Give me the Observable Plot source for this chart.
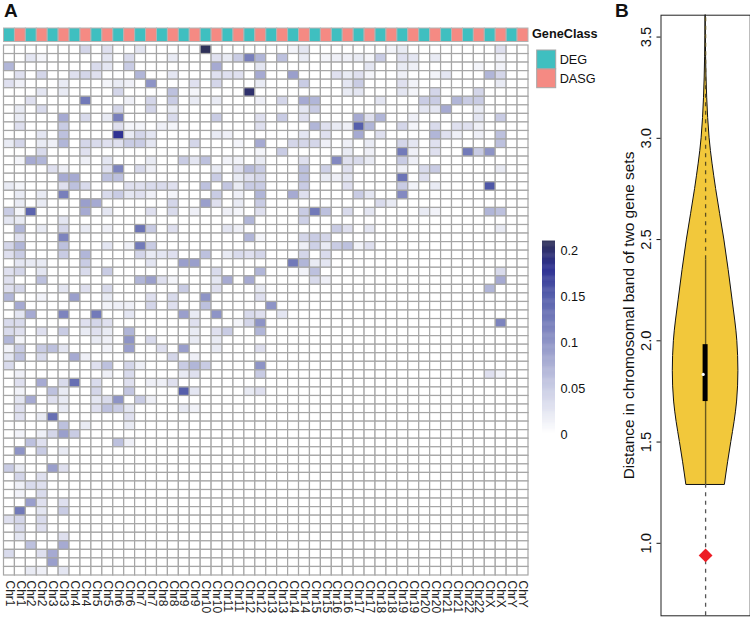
<!DOCTYPE html>
<html><head><meta charset="utf-8">
<script src="https://cdn.jsdelivr.net/npm/d3@7"></script>
<script src="https://cdn.jsdelivr.net/npm/@observablehq/plot@0.6"></script>
<style>
html,body{margin:0;padding:0;background:#fff}
#root{position:relative;width:750px;height:617px;overflow:hidden;font-family:"Liberation Sans",Arial,sans-serif;color:#111}
#root svg{position:absolute;background:transparent;overflow:visible}
.t{position:absolute;white-space:nowrap}
</style></head><body><div id="root"></div>
<script>
// ---- panel A data ----
const chromosomes=["Chr1","Chr2","Chr3","Chr4","Chr5","Chr6","Chr7","Chr8","Chr9","Chr10","Chr11","Chr12","Chr13","Chr14","Chr15","Chr16","Chr17","Chr18","Chr19","Chr20","Chr21","Chr22","ChrX","ChrY"];
const geneClasses=["DEG","DASG"];
// one list per row, as column,value,column,value...
const heatRows=[
[7,.04,9,.03,12,.025,18,.21,26,.01,27,.025,35,.01,36,.02,45,.03],
[2,.025,3,.01,9,.025,11,.035,15,.02,19,.03,20,.02,21,.05,22,.12,23,.07,25,.06,27,.02,29,.01,30,.015,31,.015,32,.02,33,.01,34,.05,36,.03,37,.025,39,.02,45,.012],
[0,.07,8,.035,9,.025,11,.05,19,.08,23,.025,33,.025,36,.02,37,.015,43,.01,45,.012],
[1,.03,3,.04,6,.03,7,.04,8,.03,12,.07,15,.025,19,.03,20,.03,21,.03,23,.08,26,.09,30,.03,31,.02,32,.03,33,.01,36,.015,39,.012,40,.025,44,.07,45,.04],
[0,.03,1,.015,5,.02,9,.01,10,.02,11,.015,13,.1,17,.03,19,.04,23,.02,27,.05,31,.025,32,.05,36,.03,37,.012,45,.02],
[3,.025,5,.02,10,.04,15,.06,17,.01,22,.2,31,.02,32,.025,36,.025,37,.01,39,.04,43,.04],
[2,.03,7,.125,11,.015,13,.04,15,.05,17,.02,19,.02,23,.015,25,.04,27,.08,28,.07,34,.025,38,.05,39,.05,41,.07,42,.05,43,.05],
[1,.02,3,.035,10,.04,13,.04,15,.02,27,.025,28,.05,38,.025,39,.025,40,.08,43,.02],
[1,.02,5,.08,7,.035,9,.02,10,.12,15,.035,19,.05,23,.03,25,.05,27,.03,32,.08,33,.03,34,.07,37,.015,43,.025,45,.05],
[1,.03,5,.05,10,.03,11,.01,12,.01,14,.015,15,.01,23,.03,28,.07,29,.03,30,.02,31,.015,32,.15,33,.07,36,.04,37,.01,39,.035,41,.03,42,.03,43,.015],
[3,.025,5,.06,10,.18,11,.02,12,.04,13,.025,19,.02,20,.015,27,.025,29,.03,32,.08,34,.03,39,.07,40,.03,41,.015,43,.015,45,.06],
[0,.02,1,.04,3,.02,4,.015,5,.07,7,.04,8,.035,9,.03,10,.03,11,.05,12,.05,13,.025,17,.04,21,.01,23,.08,26,.04,27,.04,28,.04,29,.015,31,.015,33,.02,36,.04,37,.025,39,.03,45,.06],
[3,.035,7,.03,23,.01,25,.05,31,.02,33,.015,36,.125,37,.015,39,.03,42,.125,43,.05,44,.1],
[1,.01,2,.08,3,.07,7,.015,9,.025,13,.02,16,.05,17,.025,18,.06,20,.012,21,.012,23,.02,27,.03,30,.11,31,.03,32,.035,33,.02,36,.05,37,.015],
[4,.03,5,.015,9,.03,10,.115,12,.035,13,.015,19,.02,21,.03,22,.065,23,.05,27,.06,29,.045,31,.03,36,.015,38,.035,39,.05,45,.02],
[5,.08,6,.08,9,.06,10,.06,19,.05,21,.02,22,.03,23,.04,27,.06,29,.02,30,.015,31,.025,36,.13,38,.03],
[0,.02,1,.01,5,.03,6,.06,7,.035,11,.03,12,.03,13,.035,14,.035,15,.03,18,.06,20,.055,21,.02,22,.05,23,.05,27,.05,31,.03,36,.05,37,.012,39,.02,44,.155],
[1,.02,3,.02,5,.12,9,.035,10,.05,11,.025,12,.03,13,.015,15,.01,19,.05,21,.015,23,.07,26,.08,27,.03,32,.05,33,.025,36,.11],
[1,.02,3,.02,7,.09,8,.08,15,.04,18,.09,19,.03,21,.02,23,.05,34,.035,35,.02],
[0,.05,1,.01,2,.145,7,.08,9,.025,13,.03,15,.035,17,.015,20,.015,21,.01,23,.03,27,.05,28,.125,29,.06,31,.035,33,.025,38,.02,39,.012,44,.07,45,.06],
[0,.025,1,.02,5,.025,22,.07,27,.045],
[1,.07,3,.02,5,.04,7,.02,9,.015,12,.13,13,.05,15,.03,20,.025,21,.015,30,.05,31,.03,33,.025,45,.02],
[1,.03,5,.115,22,.07,23,.01,27,.04,28,.05,29,.04],
[0,.04,1,.07,5,.06,9,.025,11,.015,12,.125,13,.05,27,.015,28,.045,29,.02,30,.05,31,.06,32,.012,33,.03],
[0,.03,1,.05,5,.05,7,.07,12,.04,13,.02,14,.025,15,.03,18,.06,20,.02,21,.035,22,.03,23,.04,27,.04,29,.035],
[1,.025,2,.02,3,.02,7,.05,13,.025,16,.09,17,.09,26,.125,27,.07,28,.02,29,.025],
[0,.03,1,.04,3,.025,7,.035,9,.05,19,.035,23,.07,27,.012,28,.06,45,.035],
[0,.03,3,.06,12,.07,13,.09,14,.03,15,.01,19,.025,20,.08,22,.08,28,.035,29,.015,45,.08],
[0,.03,1,.04,5,.025,7,.03,9,.035,16,.05,19,.03,23,.02,44,.07],
[0,.07,3,.012,6,.09,9,.02,13,.03,15,.035,18,.1,23,.03],
[1,.08,9,.012,10,.015,11,.015,13,.04,15,.03,18,.06,24,.1],
[1,.025,2,.08,5,.115,8,.125,11,.025,16,.09,17,.02,19,.1,22,.035,23,.03,25,.025],
[0,.035,1,.035,7,.03,8,.04,9,.03,17,.03,21,.01,22,.04,23,.1,45,.115],
[0,.035,1,.03,3,.03,5,.05,7,.02,8,.03,9,.02,11,.07,17,.02,19,.03,20,.05,23,.07],
[0,.07,1,.01,8,.02,9,.015,11,.1,13,.035,17,.02,19,.02],
[0,.012,1,.05,3,.05,4,.06,5,.025,9,.012,11,.09,14,.03,16,.09,19,.02,23,.03],
[0,.025,1,.06,3,.035,6,.08,7,.015,15,.04,17,.015],
[0,.035,8,.03,9,.06,11,.04,12,.015,16,.05,17,.07,18,.05,23,.1],
[1,.015,9,.015,11,.035,16,.02,17,.03,23,.05,44,.03,45,.012],
[1,.03,3,.08,5,.035,6,.135,8,.035,11,.03,13,.015,14,.015,15,.03],
[1,.012,4,.06,5,.02,8,.04,11,.055,16,.15,17,.025,22,.02,23,.03],
[1,.025,2,.08,4,.03,5,.02,8,.025,9,.035,10,.1,12,.05,13,.015],
[1,.03,5,.02,8,.03,9,.06,10,.05,11,.025,16,.02,17,.012],
[1,.03,3,.02,4,.135,11,.03],
[5,.06,7,.02,11,.02],
[1,.012,3,.015,4,.04,5,.09,6,.05],
[2,.06,3,.03,10,.06,11,.015],
[1,.1,3,.05,5,.02],
[],
[0,.05,1,.02,4,.09,5,.03],
[1,.04,3,.03],
[1,.015,2,.035,3,.03],
[1,.012,3,.035],
[2,.09,3,.03,5,.03],
[1,.125,3,.025,5,.05],
[0,.03,1,.04,3,.035],
[1,.035,3,.03],
[1,.025,5,.03],
[2,.06,5,.08],
[0,.035,3,.03,4,.08],
[4,.09],
[2,.02,3,.015,5,.025]
];
const colorStops=[0,.05,.1,.15,.18,.21];
const colorRamp=["#ffffff","#c9cce4","#8e94c6","#565fab","#2e3192","#2f3159"];
const colorTicks=[0,.05,.1,.15,.2];
const classColors=["#3fbfc0","#f58a83"];
// ---- panel B data ----
const violinV=[1.29,1.4,1.5,1.6,1.7,1.85,2.0,2.2,2.5,2.75,3.0,3.2,3.4,3.608];
const violinW=[19.3,22.5,25.7,29,31.5,32.8,31.7,27,18.7,10.5,4,1.6,.5,.1];
const distTicks=[1,1.5,2,2.5,3,3.5];
const whiskerLow=1.29, whiskerHigh=2.4, q1=1.70, q3=1.981, median=1.834, redPoint=.94, yMin=.642, yMax=3.608;

const root=document.getElementById("root");
function place(svg,left,top){svg.style.left=left+"px";svg.style.top=top+"px";root.appendChild(svg);}
function label(text,left,top,css){const d=document.createElement("div");d.className="t";d.textContent=text;d.style.cssText+=`left:${left}px;top:${top}px;${css}`;root.appendChild(d);}
const font='"Liberation Sans",Arial,sans-serif';

const nCols=chromosomes.length*2;
const columns=d3.range(nCols);
const rowsIdx=d3.range(heatRows.length);
const colName=i=>chromosomes[Math.floor(i/2)];
const cells=[];
for(const r of rowsIdx)for(const c of columns)cells.push({r,c,v:0});
heatRows.forEach((row,r)=>{for(let i=0;i<row.length;i+=2)cells[r*nCols+row[i]].v=row[i+1];});

const colorScale={type:"linear",domain:colorStops,range:colorRamp,interpolate:"rgb"};

// heat map
place(Plot.plot({width:600,height:617,marginLeft:3.5,marginRight:72,marginTop:45,marginBottom:42,
  style:{fontFamily:font,background:"transparent"},
  x:{type:"band",domain:columns,padding:0,round:false,label:null},
  y:{type:"band",domain:rowsIdx,padding:0,round:false,label:null,axis:null},
  color:colorScale,
  marks:[
    Plot.cell(cells,{x:"c",y:"r",fill:"v",stroke:"#a6a6a6",strokeWidth:1.2}),
    Plot.axisX({anchor:"bottom",tickSize:0,tickPadding:5,tickRotate:90,fontSize:12,label:null,tickFormat:colName,fill:"#222"})
  ]}),0,0);

// annotation bar
place(Plot.plot({width:600,height:42,marginLeft:3.5,marginRight:72,marginTop:28,marginBottom:.5,
  style:{background:"transparent"},
  x:{type:"band",domain:columns,padding:0,round:false,axis:null},
  y:{axis:null,type:"band",domain:["GeneClass"],padding:0,round:false},
  color:{domain:geneClasses,range:classColors},
  marks:[Plot.cell(columns,{x:d=>d,y:()=>"GeneClass",fill:d=>geneClasses[d%2],stroke:"#b3b3b3",strokeWidth:1})]}),0,0);

// class legend
place(Plot.plot({width:90,height:88,marginLeft:6.7,marginRight:64.3,marginTop:50,marginBottom:.3,
  style:{fontFamily:font,background:"transparent"},
  x:{type:"band",domain:["k"],padding:0,round:false,axis:null},
  y:{type:"band",domain:geneClasses,padding:0,round:false,label:null,axis:null},
  color:{domain:geneClasses,range:classColors},
  marks:[Plot.cell(geneClasses,{x:()=>"k",y:d=>d,fill:d=>d,stroke:"#a6a6a6",strokeWidth:1}),
    Plot.axisY({anchor:"right",tickSize:0,tickPadding:3.5,fontSize:12.7,label:null,fill:"#111"})]}),530,0);

// colour bar
const barStep=.001;
place(Plot.plot({width:70,height:440,marginLeft:12,marginRight:45,marginTop:241,marginBottom:6,
  style:{fontFamily:font,background:"transparent"},
  x:{domain:[0,1],axis:null},
  y:{domain:[0,.21],label:null,axis:null},
  color:colorScale,
  marks:[Plot.rect(d3.range(0,.21,barStep),{x1:()=>0,x2:()=>1,y1:d=>d,y2:d=>d+barStep*1.5,fill:d=>d}),
    Plot.axisY({anchor:"right",ticks:colorTicks,tickSize:0,tickPadding:5,fontSize:12.7,label:null,tickFormat:d=>String(d),fill:"#111"})]}),530,0);

// violin
const violin=violinV.map((v,i)=>({v,w:violinW[i]}));
place(Plot.plot({width:140,height:617,marginLeft:50.5,marginRight:0.3,marginTop:14.7,marginBottom:1.7,
  style:{fontFamily:font,background:"transparent"},
  x:{domain:[-44.6,44.6],axis:null},
  y:{domain:[yMin,yMax],label:null,axis:null},
  marks:[
    Plot.areaX(violin,{x1:d=>-d.w,x2:d=>d.w,y:"v",fill:"#f2c83b",stroke:"#111",strokeWidth:1,curve:"monotone-y"}),
    Plot.ruleX([0],{y1:yMin,y2:whiskerLow,stroke:"#555",strokeWidth:1.3,strokeDasharray:"4,4.5"}),
    Plot.ruleX([0],{y1:whiskerLow,y2:whiskerHigh,stroke:"#6a5a1e",strokeWidth:1.4}),
    Plot.ruleX([0],{y1:whiskerHigh,y2:yMax,stroke:"#5d5020",strokeWidth:1.3,strokeDasharray:"4,4.5"}),
    Plot.rect([0],{x1:-2.5,x2:2.5,y1:q1,y2:q3,fill:"#000"}),
    Plot.dot([0],{x:-2.4,y:median,r:1.6,fill:"#fff"}),
    Plot.dot([0],{x:0,y:redPoint,symbol:"diamond2",r:6.2,fill:"#ed1c24"}),
    Plot.frame({stroke:"#222",strokeWidth:1}),
    Plot.axisY({anchor:"left",ticks:distTicks,tickSize:4,tickPadding:6,tickRotate:-90,fontSize:14.8,
      tickFormat:d=>d.toFixed(1),label:null,fill:"#111"}),
    Plot.axisY({anchor:"left",ticks:[],fontSize:15.4,label:"Distance in chromosomal band of two gene sets",labelAnchor:"center",labelArrow:"none",labelOffset:38,fill:"#111"})
  ]}),610,0);

label("A",4,0,"font-size:19px;font-weight:bold;");
label("B",615,0,"font-size:19px;font-weight:bold;");
label("GeneClass",532,27,"font-size:12.7px;font-weight:bold;");
</script></body></html>
